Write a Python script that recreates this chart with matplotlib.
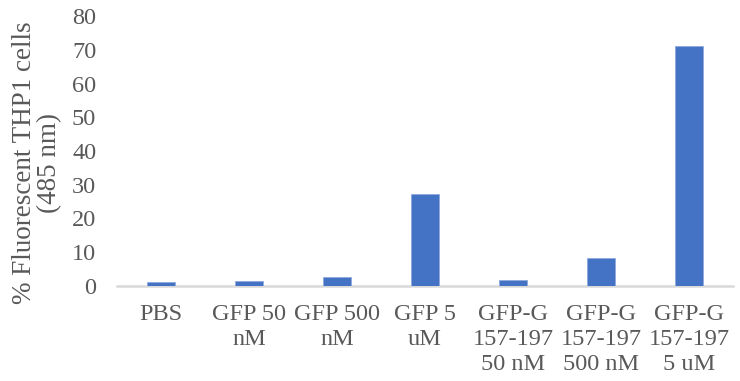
import matplotlib
matplotlib.use("Agg")
import matplotlib.pyplot as plt

categories = ["PBS", "GFP 50\nnM", "GFP 500\nnM", "GFP 5\nuM",
              "GFP-G\n157-197\n50 nM", "GFP-G\n157-197\n500 nM", "GFP-G\n157-197\n5 uM"]
values = [1.1, 1.5, 2.7, 27.3, 1.9, 8.2, 71.0]
y_ticks = [0, 10, 20, 30, 40, 50, 60, 70, 80]

plt.rcParams['font.family'] = ['Liberation Serif', 'DejaVu Serif']
text_color = "#595959"
fs = 17.5

fig = plt.figure(figsize=(7.4, 3.81), dpi=100)
ax = fig.add_axes([117 / 740, 1 - 286 / 381, 616 / 740, 270 / 381])

x = range(len(categories))
ax.bar(x, values, width=0.31, color="#4472C4", edgecolor="#8FAADC", linewidth=0.6, zorder=3)

ax.set_xlim(-0.5, len(categories) - 0.5)
ax.set_ylim(0, 80)
ax.set_yticks(y_ticks)
ax.set_xticks(list(x))
ax.set_xticklabels(categories, fontsize=fs, color=text_color, linespacing=1.25)
ax.tick_params(axis='y', labelsize=fs, labelcolor=text_color, length=0, pad=15)
ax.tick_params(axis='x', length=0, pad=13)

for side in ["top", "right", "left"]:
    ax.spines[side].set_visible(False)
ax.spines["bottom"].set_color("#D9D9D9")
ax.spines["bottom"].set_linewidth(1.8)

fig.text(37 / 740, 1 - 163 / 381, "% Fluorescent THP1 cells\n(485 nm)", rotation=90,
         ha="center", va="center", fontsize=19.5, color=text_color, linespacing=1.05)

fig.savefig("out.png", dpi=100)
